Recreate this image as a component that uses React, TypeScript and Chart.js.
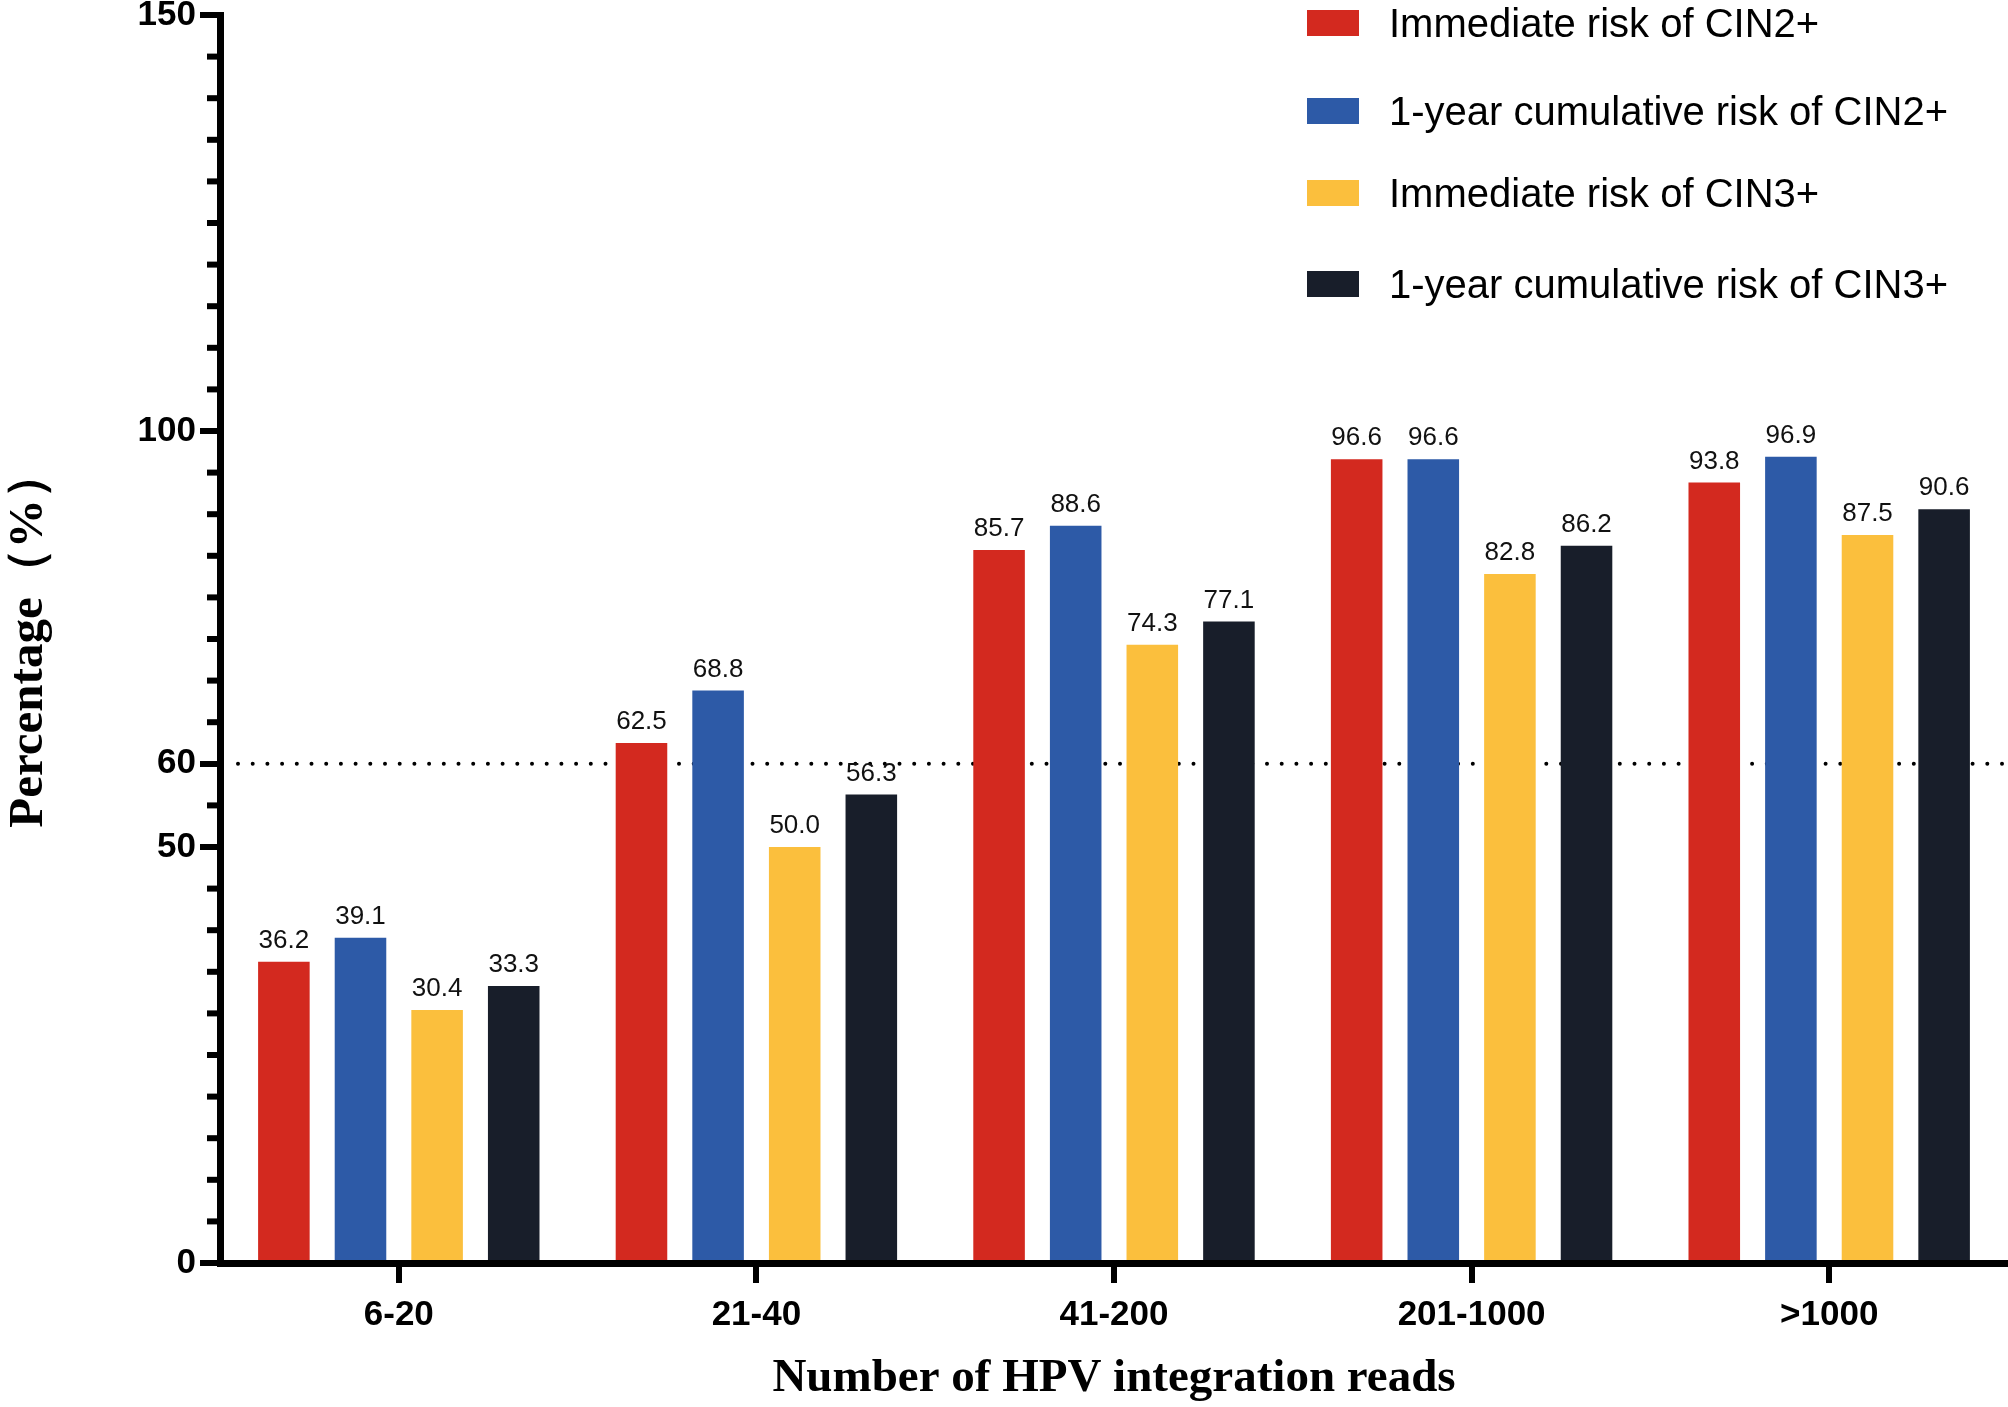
import React, { useEffect, useRef } from "react";
import { Chart, registerables } from "chart.js";

Chart.register(...registerables);

const CATEGORIES = ["6-20", "21-40", "41-200", "201-1000", ">1000"];
const SERIES_NAMES = [
  "Immediate risk of CIN2+",
  "1-year cumulative risk of CIN2+",
  "Immediate risk of CIN3+",
  "1-year cumulative risk of CIN3+",
];
const IMMEDIATE_CIN2 = [36.2, 62.5, 85.7, 96.6, 93.8];
const CUMULATIVE_CIN2 = [39.1, 68.8, 88.6, 96.6, 96.9];
const IMMEDIATE_CIN3 = [30.4, 50.0, 74.3, 82.8, 87.5];
const CUMULATIVE_CIN3 = [33.3, 56.3, 77.1, 86.2, 90.6];
const SERIES_COLORS = ["#D3291F", "#2D5AA7", "#FBBF3D", "#181E2A"];
const Y_TICKS = [0, 50, 60, 100, 150];
const MINOR_STEP = 5;
const THRESHOLD = 60;

const SANS = "'Liberation Sans', Arial, sans-serif";
const SERIF = "'Liberation Serif', 'Times New Roman', serif";

// legend rows are not evenly spaced in the original figure
const LEGEND_ROW_Y = [23, 111, 193, 284];

// minor ticks every 5 units on the y axis (shorter than the labelled ones)
const minorTicks = {
  id: "minorTicks",
  afterDraw(chart) {
    const { ctx, chartArea, scales } = chart;
    const y = scales.y;
    ctx.save();
    ctx.strokeStyle = "#000";
    ctx.lineWidth = 6;
    for (let v = y.min; v <= y.max; v += MINOR_STEP) {
      if (Y_TICKS.includes(v)) continue;
      const py = y.getPixelForValue(v);
      ctx.beginPath();
      ctx.moveTo(chartArea.left - 13, py);
      ctx.lineTo(chartArea.left, py);
      ctx.stroke();
    }
    ctx.restore();
  },
};

// dotted reference line at 60%
const thresholdLine = {
  id: "thresholdLine",
  beforeDatasetsDraw(chart) {
    const { ctx, chartArea, scales } = chart;
    const py = scales.y.getPixelForValue(THRESHOLD);
    ctx.save();
    ctx.strokeStyle = "#000";
    ctx.lineWidth = 4;
    ctx.lineCap = "round";
    ctx.setLineDash([0, 14.7]);
    ctx.beginPath();
    ctx.moveTo(chartArea.left + 18, py);
    ctx.lineTo(chartArea.right, py);
    ctx.stroke();
    ctx.restore();
  },
};

// value labels above every bar
const valueLabels = {
  id: "valueLabels",
  afterDatasetsDraw(chart) {
    const { ctx } = chart;
    ctx.save();
    ctx.font = `26px ${SANS}`;
    ctx.fillStyle = "#111";
    ctx.textAlign = "center";
    ctx.textBaseline = "alphabetic";
    chart.data.datasets.forEach((ds, i) => {
      chart.getDatasetMeta(i).data.forEach((bar, j) => {
        ctx.fillText(ds.data[j].toFixed(1), bar.x, bar.y - 14);
      });
    });
    ctx.restore();
  },
};

// stacked legend in the top-right corner
const cornerLegend = {
  id: "cornerLegend",
  afterDraw(chart) {
    const { ctx } = chart;
    ctx.save();
    ctx.font = `40px ${SANS}`;
    ctx.textAlign = "left";
    ctx.textBaseline = "alphabetic";
    chart.data.datasets.forEach((ds, i) => {
      const cy = LEGEND_ROW_Y[i];
      ctx.fillStyle = ds.backgroundColor;
      ctx.fillRect(1307, cy - 13, 52, 26);
      ctx.fillStyle = "#000";
      ctx.fillText(ds.label, 1389, cy + 14);
    });
    ctx.restore();
  },
};

const App = () => {
  const canvasRef = useRef(null);
  const chartRef = useRef(null);

  useEffect(() => {
    document.body.style.margin = "0";
    const ctx = canvasRef.current;
    if (chartRef.current) chartRef.current.destroy();

    const values = [IMMEDIATE_CIN2, CUMULATIVE_CIN2, IMMEDIATE_CIN3, CUMULATIVE_CIN3];

    chartRef.current = new Chart(ctx, {
      type: "bar",
      data: {
        labels: CATEGORIES,
        datasets: values.map((data, i) => ({
          label: SERIES_NAMES[i],
          data,
          backgroundColor: SERIES_COLORS[i],
          borderWidth: 0,
          categoryPercentage: 0.857,
          barPercentage: 0.673,
        })),
      },
      options: {
        responsive: false,
        animation: false,
        layout: { padding: { top: 15, left: 0, right: 0, bottom: 0 } },
        plugins: {
          legend: { display: false },
          tooltip: { enabled: false },
        },
        scales: {
          x: {
            offset: true,
            grid: {
              offset: false,
              drawOnChartArea: false,
              color: "#000",
              lineWidth: 6,
              tickLength: 20,
            },
            border: { display: true, color: "#000", width: 7, z: 1 },
            ticks: {
              color: "#000",
              padding: 11,
              font: { family: SANS, size: 35, weight: "bold" },
            },
            title: {
              display: true,
              text: "Number of HPV integration reads",
              color: "#000",
              font: { family: SERIF, size: 47, weight: "bold" },
              padding: { top: 0, bottom: 0 },
            },
            afterFit(scale) {
              scale.height = 144;
              scale.paddingLeft = 0;
              scale.paddingRight = 0;
            },
          },
          y: {
            min: 0,
            max: 150,
            afterBuildTicks(scale) {
              scale.ticks = Y_TICKS.map((v) => ({ value: v }));
            },
            grid: {
              drawOnChartArea: false,
              color: "#000",
              lineWidth: 6,
              tickLength: 20,
            },
            border: { display: true, color: "#000", width: 7, z: 1 },
            ticks: {
              color: "#000",
              padding: 4,
              font: { family: SANS, size: 35, weight: "bold" },
            },
            title: {
              display: true,
              text: "Percentage（%）",
              color: "#000",
              font: { family: SERIF, size: 49, weight: "bold" },
              padding: { top: 0, bottom: 0 },
            },
            afterFit(scale) {
              scale.width = 220;
              scale.paddingTop = 0;
              scale.paddingBottom = 0;
            },
          },
        },
      },
      plugins: [thresholdLine, valueLabels, minorTicks, cornerLegend],
    });

    return () => {
      if (chartRef.current) {
        chartRef.current.destroy();
        chartRef.current = null;
      }
    };
  }, []);

  return (
    <div style={{ width: 2008, height: 1407, position: "relative", background: "#fff" }}>
      <canvas ref={canvasRef} width={2008} height={1407} />
    </div>
  );
};

export default App;
